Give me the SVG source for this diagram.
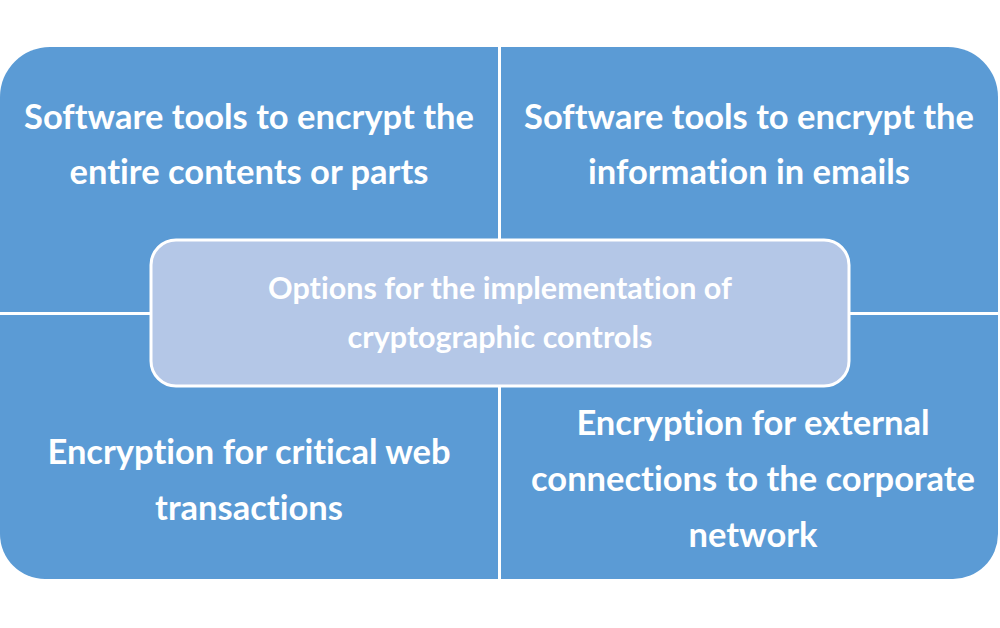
<svg xmlns="http://www.w3.org/2000/svg" width="1000" height="628" viewBox="0 0 1000 628">
<style>
.q{fill:#5B9BD5;}
.t{font-family:Lato,"Open Sans",sans-serif;font-weight:700;fill:#FFFFFF;font-size:34.5px;text-anchor:middle;font-variant-ligatures:none;}
.c{font-family:Lato,"Open Sans",sans-serif;font-weight:700;fill:#FFFFFF;font-size:30.5px;text-anchor:middle;font-variant-ligatures:none;}
</style>
<rect width="1000" height="628" fill="#FFFFFF"/>
<g id="q-top-left">
<path class="q" d="M0,97 A50,50 0 0 1 50,47 L498,47 L498,312 L0,312 Z"/>
<text class="t" x="249" y="129">Software tools to encrypt the</text>
<text class="t" x="249" y="184">entire contents or parts</text>
</g>
<g id="q-top-right">
<path class="q" d="M501,47 L948,47 A50,50 0 0 1 998,97 L998,312 L501,312 Z"/>
<text class="t" x="749" y="129">Software tools to encrypt the</text>
<text class="t" x="749" y="184">information in emails</text>
</g>
<g id="q-bottom-left">
<path class="q" d="M0,315 L498,315 L498,579 L45,579 A45,45 0 0 1 0,534 Z"/>
<text class="t" x="249" y="464">Encryption for critical web</text>
<text class="t" x="249" y="520">transactions</text>
</g>
<g id="q-bottom-right">
<path class="q" d="M501,315 L998,315 L998,534 A45,45 0 0 1 953,579 L501,579 Z"/>
<text class="t" x="753" y="435">Encryption for external</text>
<text class="t" x="753" y="491">connections to the corporate</text>
<text class="t" x="753" y="547">network</text>
</g>
<g id="center">
<rect x="151" y="240" width="698" height="146" rx="25" ry="25" fill="#B4C7E7" stroke="#FFFFFF" stroke-width="3"/>
<text class="c" x="500" y="299">Options for the implementation of</text>
<text class="c" x="500" y="348">cryptographic controls</text>
</g>
<g id="connectors"></g>
</svg>
